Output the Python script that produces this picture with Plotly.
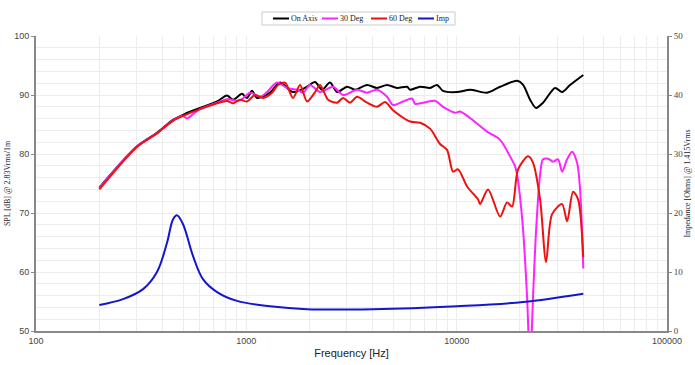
import plotly.graph_objects as go

# ---------------- data ----------------
on_axis_f = [200, 302, 376, 448, 511, 602, 726, 809, 865, 954, 1008, 1064, 1124, 1296, 1446, 1667,
             1944, 2122, 2291, 2500, 2700, 3012, 3288, 3749, 4183, 4667, 5208, 5808, 6002, 6698,
             7473, 8071, 8614, 10044, 11580, 13950, 16085, 19380, 20696, 22336, 23854, 25755,
             29367, 31710, 34611, 40000]
on_axis_db = [74.3, 81.3, 83.6, 85.8, 86.8, 87.8, 88.9, 89.9, 89.2, 90.2, 89.5, 90.7, 89.5, 90.4, 92.1, 90.5,
              91.4, 92.2, 90.9, 92.1, 90.5, 91.4, 90.9, 91.7, 91.2, 91.7, 91.2, 91.4, 90.9, 91.4,
              91.2, 91.7, 90.7, 90.5, 90.9, 90.4, 91.4, 92.4, 91.7, 89.2, 87.8, 88.7,
              91.2, 90.5, 91.7, 93.4]

deg30_f = [200, 302, 376, 448, 500, 522, 560, 602, 726, 809, 903, 954, 1041, 1162, 1254, 1400, 1562,
           1742, 1860, 2009, 2242, 2584, 2883, 3360, 3749, 4183, 4667, 4984, 5562, 6136, 6341, 6922,
           7897, 8614, 9826, 10380, 11580, 13950, 16085, 17944, 18956, 19380, 20600, 21600, 22336,
           23082, 23854, 24924, 25755, 27207, 28733, 30350, 31710, 33500, 35380, 37370, 38620, 40000]
deg30_db = [74.2, 81.3, 83.5, 85.7, 86.5, 86.0, 86.8, 87.6, 88.7, 89.3, 89.0, 89.3, 90.4, 89.7, 90.5, 92.1, 91.2,
            90.9, 90.4, 91.7, 90.5, 91.4, 90.0, 90.9, 90.4, 90.9, 89.7, 88.3, 88.9, 89.4, 88.5, 88.7,
            89.0, 88.0, 87.0, 87.2, 86.1, 83.8, 82.4, 79.6, 77.9, 76.5, 68.0, 56.0, 44.0,
            56.0, 67.0, 76.5, 79.1, 79.2, 78.7, 79.1, 77.0, 79.1, 80.4, 78.5, 74.0, 60.6]

deg60_f = [200, 302, 376, 448, 511, 602, 726, 809, 865, 933, 1008, 1100, 1201, 1325, 1415, 1528, 1667,
           1800, 1944, 2122, 2242, 2446, 2700, 2883, 3112, 3360, 3749, 4183, 4566, 4984, 5382, 6002,
           6698, 7473, 8337, 9000, 9614, 10155, 11208, 12642, 12923, 14103, 16085, 17362, 18342,
           19590, 21860, 23082, 24924, 26617, 28420, 31710, 33500, 35770, 37780, 40000]
deg60_db = [74.0, 81.2, 83.5, 85.6, 86.6, 87.6, 88.6, 89.0, 88.6, 89.2, 88.9, 90.0, 89.5, 90.4, 91.7, 92.1, 89.5,
            91.7, 88.9, 90.5, 91.7, 89.2, 88.7, 89.5, 88.7, 89.7, 88.7, 88.0, 88.8, 87.4, 86.5, 85.5,
            85.3, 84.3, 81.7, 80.7, 77.0, 77.4, 74.5, 72.3, 71.5, 74.0, 69.4, 71.8, 71.1,
            77.4, 79.6, 78.5, 72.3, 61.7, 69.8, 71.5, 68.6, 73.6, 72.3, 62.5]

imp_f = [200, 259, 323, 376, 420, 448, 468, 500, 558, 622, 726, 903, 1296, 1944, 4004, 10044, 20696, 40000]
imp_ohm = [4.4, 5.4, 7.1, 10.0, 15.0, 18.9, 19.6, 18.1, 12.7, 8.8, 6.6, 5.1, 4.2, 3.7, 3.7, 4.2, 4.9, 6.3]

series_names = ["On Axis", "30 Deg", "60 Deg", "Imp"]
series_colors = ["#000000", "#ff22ff", "#ee1111", "#1515d0"]

x_tickvals = [100, 1000, 10000, 100000]
x_ticktext = ["100", "1000", "10000", "100000"]
spl_ticks = [50, 60, 70, 80, 90, 100]
imp_ticks = [0, 10, 20, 30, 40, 50]

# ---------------- figure ----------------
W, H = 695, 365
ML, MR, MT, MB = 36, 28, 36, 34
PW, PH = W - ML - MR, H - MT - MB

fig = go.Figure()
fig.add_trace(go.Scatter(x=on_axis_f, y=on_axis_db, name=series_names[0], mode="lines",
                         line=dict(color=series_colors[0], width=2, shape="spline", smoothing=0.8)))
fig.add_trace(go.Scatter(x=deg30_f, y=deg30_db, name=series_names[1], mode="lines",
                         line=dict(color=series_colors[1], width=2, shape="spline", smoothing=0.8)))
fig.add_trace(go.Scatter(x=deg60_f, y=deg60_db, name=series_names[2], mode="lines",
                         line=dict(color=series_colors[2], width=2, shape="spline", smoothing=0.8)))
fig.add_trace(go.Scatter(x=imp_f, y=imp_ohm, name=series_names[3], mode="lines", yaxis="y2",
                         line=dict(color=series_colors[3], width=2, shape="spline", smoothing=1.0)))


def px_x(p):
    return (p - ML) / PW


def px_y(p):
    return 1 + (MT - p) / PH


# custom compact legend (box, sample lines, labels)
serif = "Liberation Serif, Times New Roman"
shapes = [dict(type="rect", xref="paper", yref="paper",
               x0=px_x(262), x1=px_x(455), y0=px_y(25), y1=px_y(12),
               line=dict(color="#cccccc", width=1), fillcolor="white", layer="above")]
annotations = []
item_starts = [273, 322, 371, 418]
for start, name, color in zip(item_starts, series_names, series_colors):
    shapes.append(dict(type="line", xref="paper", yref="paper",
                       x0=px_x(start), x1=px_x(start + 16), y0=px_y(18.5), y1=px_y(18.5),
                       line=dict(color=color, width=2), layer="above"))
    annotations.append(dict(xref="paper", yref="paper", x=px_x(start + 16), y=px_y(18.5),
                            xanchor="left", yanchor="middle", showarrow=False, text=name,
                            font=dict(family=serif, size=8, color="#222")))

grid = "#ececec"
fig.update_layout(
    width=W, height=H,
    margin=dict(l=ML, r=MR, t=MT, b=MB, autoexpand=False),
    plot_bgcolor="white", paper_bgcolor="white",
    font=dict(family="Liberation Sans, Arial", size=9, color="#444"),
    showlegend=False,
    shapes=shapes, annotations=annotations,
    xaxis=dict(type="log", range=[2, 5], tickvals=x_tickvals, ticktext=x_ticktext,
               showgrid=True, gridcolor=grid, gridwidth=1, automargin=False,
               minor=dict(dtick="D1", showgrid=True, gridcolor=grid),
               showline=True, linecolor="#888", linewidth=2,
               title=dict(text="Frequency [Hz]", font=dict(size=11, color="#222"), standoff=5),
               ticks="", tickfont=dict(size=9, color="#444"), zeroline=False),
    yaxis=dict(range=[50, 100], tickvals=spl_ticks, showgrid=True, gridcolor=grid, automargin=False,
               minor=dict(dtick=2, showgrid=True, gridcolor=grid),
               showline=True, linecolor="#888", linewidth=2, zeroline=False,
               ticks="outside", ticklen=3, tickcolor="#888",
               title=dict(text="SPL [dB] @ 2.83Vrms/1m",
                          font=dict(family=serif, size=8, color="#222"), standoff=2),
               tickfont=dict(size=9, color="#444")),
    yaxis2=dict(range=[0, 50], tickvals=imp_ticks, overlaying="y", side="right", automargin=False,
                showgrid=False, showline=True, linecolor="#888", linewidth=2, zeroline=False,
                ticks="outside", ticklen=3, tickcolor="#888",
                title=dict(text="Impedance [Ohms] @ 1.415Vrms",
                           font=dict(family=serif, size=8, color="#222"), standoff=2),
                tickfont=dict(family=serif, size=9, color="#444")),
)

fig.write_html("out.html", config={"displayModeBar": False},
               post_script="document.body.style.margin='0';")
